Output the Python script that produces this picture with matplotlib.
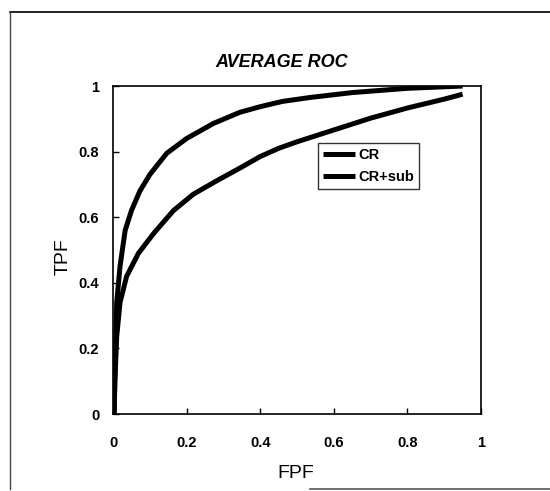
import matplotlib
matplotlib.use("Agg")
import matplotlib.pyplot as plt
from matplotlib.lines import Line2D
from matplotlib import font_manager

names = {f.name for f in font_manager.fontManager.ttflist}
narrow = 'Liberation Sans Narrow' if 'Liberation Sans Narrow' in names else 'Liberation Sans'
plt.rcParams['font.family'] = [narrow, 'DejaVu Sans']

# ---- data ----
cr_fpf = [0.003, 0.005, 0.01, 0.019, 0.033, 0.05, 0.073, 0.10, 0.146, 0.20,
          0.273, 0.345, 0.40, 0.46, 0.535, 0.65, 0.80, 0.95]
cr_tpf = [0.0, 0.12, 0.34, 0.45, 0.56, 0.62, 0.68, 0.73, 0.795, 0.84,
          0.886, 0.92, 0.937, 0.953, 0.965, 0.98, 0.993, 1.0]

crsub_fpf = [0.003, 0.005, 0.01, 0.019, 0.037, 0.069, 0.11, 0.164, 0.218, 0.28,
             0.345, 0.40, 0.45, 0.50, 0.60, 0.70, 0.80, 0.90, 0.95]
crsub_tpf = [0.0, 0.10, 0.236, 0.34, 0.42, 0.49, 0.55, 0.62, 0.67, 0.71,
             0.75, 0.785, 0.81, 0.83, 0.866, 0.902, 0.933, 0.96, 0.975]

xticks = [0, 0.2, 0.4, 0.6, 0.8, 1]
xticklabels = ['0', '0.2', '0.4', '0.6', '0.8', '1']
yticks = [0, 0.2, 0.4, 0.6, 0.8, 1]
yticklabels = ['0', '0.2', '0.4', '0.6', '0.8', '1']

fig = plt.figure(figsize=(5.5, 4.91), dpi=100)
ax = fig.add_axes([0.2055, 0.1568, 0.669, 0.668])

ax.plot(cr_fpf, cr_tpf, color='black', lw=3.6, solid_capstyle='butt',
        solid_joinstyle='round', label='CR')
ax.plot(crsub_fpf, crsub_tpf, color='black', lw=3.6, solid_capstyle='butt',
        solid_joinstyle='round', label='CR+sub')

ax.set_xlim(0, 1)
ax.set_ylim(0, 1)
ax.set_xticks(xticks)
ax.set_xticklabels(xticklabels, fontsize=10.5, fontweight='bold')
ax.set_yticks(yticks)
ax.set_yticklabels(yticklabels, fontsize=10.5, fontweight='bold')
ax.tick_params(axis='x', direction='in', length=4, width=1, pad=16)
ax.tick_params(axis='y', direction='in', length=4, width=1, pad=10)
for s in ax.spines.values():
    s.set_linewidth(1.2)
    s.set_color('black')

fig.text(0.538, 0.035, 'FPF', ha='center', va='center', fontsize=14)
fig.text(0.115, 0.477, 'TPF', ha='center', va='center', fontsize=14, rotation=90)
fig.text(0.513, 0.873, 'AVERAGE ROC', ha='center', va='center', fontsize=13,
         fontweight='bold', fontstyle='italic')

leg = ax.legend(loc='upper left', bbox_to_anchor=(0.557, 0.826), frameon=True,
                fancybox=False, edgecolor='black', fontsize=10.5,
                handlelength=2.2, handletextpad=0.2, borderpad=0.35,
                labelspacing=0.55, borderaxespad=0)
leg.get_frame().set_linewidth(1.0)
for t in leg.get_texts():
    t.set_fontweight('bold')

# figure border (scanned frame)
W, H = 550, 491
fig.add_artist(Line2D([10 / W, 1.0], [1 - 12 / H, 1 - 12 / H], color='black', lw=1.2))
fig.add_artist(Line2D([10 / W, 10 / W], [1 - 12 / H, 1 - 489 / H], color='#444444', lw=1.0))
fig.add_artist(Line2D([310 / W, 1.0], [1 - 489 / H, 1 - 489 / H], color='#555555', lw=1.2))

fig.savefig('out.png', dpi=100)
